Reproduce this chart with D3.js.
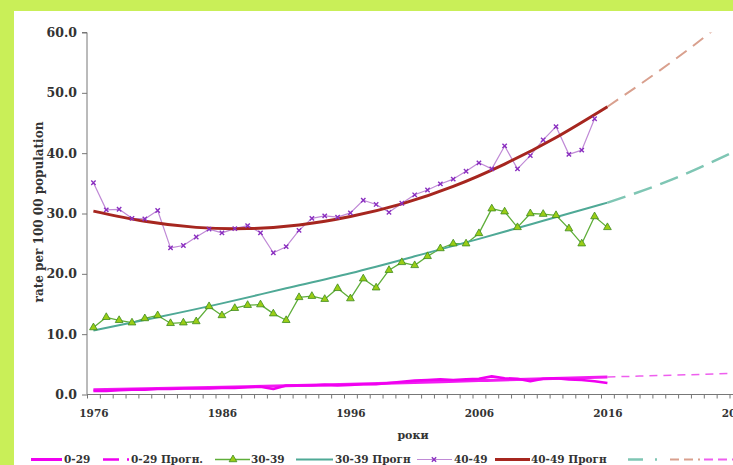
<!DOCTYPE html>
<html>
<head>
<meta charset="utf-8">
<script src="https://cdn.jsdelivr.net/npm/d3@7"></script>
<style>
  html, body { margin: 0; padding: 0; overflow: hidden; background: #c9ef58; }
  svg { display: block; }
  text { font-family: "DejaVu Serif", "Liberation Serif", serif; font-weight: bold; fill: #333; }
</style>
</head>
<body>
<svg id="chart" width="733" height="465"></svg>
<script>
// Observation years
const years = [1976,1977,1978,1979,1980,1981,1982,1983,1984,1985,1986,1987,1988,1989,1990,
  1991,1992,1993,1994,1995,1996,1997,1998,1999,2000,2001,2002,2003,2004,2005,2006,2007,2008,
  2009,2010,2011,2012,2013,2014,2015,2016];

// Rates per 100 000 population by age group
const rate0_29 = [0.6,0.6,0.7,0.8,0.8,0.9,0.9,1.0,1.0,1.0,1.1,1.1,1.2,1.3,0.9,
  1.5,1.5,1.5,1.6,1.5,1.6,1.7,1.7,1.9,2.1,2.3,2.4,2.5,2.4,2.5,2.6,3.0,2.7,
  2.6,2.2,2.6,2.7,2.5,2.4,2.2,1.9];
const rate30_39 = [11.1,12.8,12.3,11.9,12.6,13.1,11.8,11.9,12.1,14.6,13.1,14.3,14.8,14.9,13.4,
  12.3,16.1,16.3,15.8,17.6,15.9,19.2,17.7,20.6,21.9,21.4,22.9,24.2,25.0,25.0,26.7,30.8,30.3,
  27.7,30.0,29.9,29.7,27.5,25.0,29.5,27.7];
const rate40_49 = [35.1,30.6,30.7,29.2,29.1,30.5,24.3,24.7,26.1,27.4,26.8,27.5,28.0,26.8,23.5,
  24.5,27.2,29.2,29.6,29.4,30.1,32.2,31.5,30.2,31.7,33.1,33.9,34.9,35.7,37.0,38.4,37.4,41.2,
  37.4,39.6,42.2,44.4,39.8,40.5,45.7];

// Fitted trend (solid) and forecast (dashed) curves
const trend0_29Years = [1976,1986,1996,2006,2016];
const trend0_29 = [0.8,1.2,1.7,2.3,2.9];
const fc0_29Years = [2016,2021,2026];
const fc0_29 = [2.9,3.2,3.5];

const trend30_39Years = [1976,1981,1986,1991,1996,2001,2006,2011,2016];
const trend30_39 = [10.6,12.8,15.1,17.6,20.1,22.9,25.8,28.8,31.8];
const fc30_39Years = [2016,2021,2026];
const fc30_39 = [31.8,35.6,40.4];

const trend40_49Years = [1976,1980,1984,1988,1992,1996,2000,2004,2008,2012,2016];
const trend40_49 = [30.4,28.7,27.7,27.5,28.1,29.5,31.6,34.5,38.2,42.6,47.7];
const fc40_49Years = [2016,2020,2024,2028];
const fc40_49 = [47.7,53.6,60.0,67.0];

// Axis ticks and labels
const yTicks = [0,10,20,30,40,50,60];
const xLabelYears = [1976,1986,1996,2006,2016,2026];

const svg = d3.select("#chart");
const W = 733, H = 465;

// slide background + white chart panel
svg.append("rect").attr("width", W).attr("height", H).attr("fill", "#c9ef58");
svg.append("rect").attr("x", 14).attr("y", 11).attr("width", W - 14).attr("height", H - 11).attr("fill", "#ffffff");

const plotLeft = 87, plotTop = 32.5, plotBottom = 394.5;
const step = 12.85;
const x = d3.scaleLinear().domain([1975.5, 2031.5]).range([plotLeft, plotLeft + 56 * step]);
const y = d3.scaleLinear().domain([0, 60]).range([plotBottom, plotTop]);

// clip region for the plotted curves
svg.append("defs").append("clipPath").attr("id", "plotClip")
  .append("rect").attr("x", plotLeft).attr("y", plotTop).attr("width", W - plotLeft).attr("height", plotBottom - plotTop + 2);

// Y axis
const yAxis = svg.append("g").attr("transform", `translate(${plotLeft},0)`)
  .call(d3.axisLeft(y).tickValues(yTicks).tickFormat(d3.format(".1f")).tickSize(5).tickPadding(5));
yAxis.select(".domain").attr("stroke", "#777").attr("d", `M-5,${plotTop}H0V${plotBottom}`);
yAxis.selectAll(".tick line").attr("stroke", "#777");
yAxis.selectAll("text").attr("font-size", 12.5).attr("fill", "#333")
  .style("font-family", "DejaVu Serif").style("font-weight", "bold");

// X axis: one tick per year boundary, labels every ten years
const boundaries = d3.range(1975.5, 2032, 1);
const xAxis = svg.append("g").attr("transform", `translate(0,${plotBottom})`)
  .call(d3.axisBottom(x).tickValues(boundaries).tickFormat("").tickSize(4));
xAxis.select(".domain").attr("stroke", "#777").attr("d", `M${plotLeft},0H${W + 20}`);
xAxis.selectAll(".tick line").attr("stroke", "#777");

const xLab = svg.append("g").attr("transform", `translate(0,${plotBottom})`)
  .call(d3.axisBottom(x).tickValues(xLabelYears).tickFormat(d3.format("d")).tickSize(0).tickPadding(15));
xLab.select(".domain").remove();
xLab.selectAll("text").attr("font-size", 10.5).attr("fill", "#333")
  .style("font-family", "DejaVu Serif").style("font-weight", "bold");

// Axis titles
svg.append("text")
  .attr("transform", "translate(43,212) rotate(-90)")
  .attr("text-anchor", "middle").attr("font-size", 12)
  .text("rate per 100 00 population");
svg.append("text").attr("x", 413).attr("y", 439)
  .attr("text-anchor", "middle").attr("font-size", 11)
  .text("роки");

const plot = svg.append("g").attr("clip-path", "url(#plotClip)");

const line = (xs, ys, curve) => d3.line()
  .x((d, i) => x(xs[i])).y(d => y(d)).curve(curve || d3.curveLinear)(ys);

function path(xs, ys, opts) {
  return plot.append("path")
    .attr("d", line(xs, ys, opts.curve))
    .attr("fill", "none")
    .attr("stroke", opts.color)
    .attr("stroke-width", opts.width)
    .attr("stroke-dasharray", opts.dash || null)
    .attr("stroke-linejoin", "round")
    .attr("stroke-linecap", opts.cap || "butt");
}

const yrs40 = years.slice(0, rate40_49.length);

// forecasts (dashed)
path(fc40_49Years, fc40_49, { color: "#d9a08e", width: 2, dash: "13,8", curve: d3.curveNatural });
path(fc30_39Years, fc30_39, { color: "#7fc6b4", width: 2.5, dash: "19,9", curve: d3.curveNatural });
path(fc0_29Years, fc0_29, { color: "#ee5fee", width: 1.5, dash: "8,6", curve: d3.curveNatural });

// 0-29
path(trend0_29Years, trend0_29, { color: "#f21cf2", width: 3, curve: d3.curveNatural });
path(years, rate0_29, { color: "#f000f0", width: 2.6 });

// 30-39
path(years, rate30_39, { color: "#5fae3a", width: 1.3 });
path(trend30_39Years, trend30_39, { color: "#4fa996", width: 2, curve: d3.curveNatural });
plot.append("g").selectAll("path").data(rate30_39).join("path")
  .attr("transform", (d, i) => `translate(${x(years[i])},${y(d)})`)
  .attr("d", d3.symbol(d3.symbolTriangle, 26))
  .attr("fill", "#9acd16").attr("stroke", "#3d8a1e").attr("stroke-width", 0.8);

// 40-49
path(yrs40, rate40_49, { color: "#c08ad6", width: 1.2 });
path(trend40_49Years, trend40_49, { color: "#a6261f", width: 3, curve: d3.curveNatural });
plot.append("g").selectAll("path").data(rate40_49).join("path")
  .attr("transform", (d, i) => `translate(${x(yrs40[i])},${y(d)})`)
  .attr("d", d3.symbol(d3.symbolX, 14))
  .attr("fill", "none").attr("stroke", "#8a2fc0").attr("stroke-width", 1.4);

// Legend
const legY = 459.5;
const lg = svg.append("g");
function legLine(x0, x1, color, width, dash) {
  lg.append("line").attr("x1", x0).attr("x2", x1).attr("y1", legY).attr("y2", legY)
    .attr("stroke", color).attr("stroke-width", width).attr("stroke-dasharray", dash || null);
}
function legText(x0, label) {
  lg.append("text").attr("x", x0).attr("y", legY + 3.5).attr("font-size", 10.5).text(label);
}
legLine(31, 62, "#f000f0", 3);          legText(64, "0-29");
legLine(103, 130, "#f000f0", 2.5, "16,8,2,20"); legText(131, "0-29 Прогн.");
legLine(215, 250, "#5fae3a", 1.3);      legText(251, "30-39");
lg.append("path").attr("transform", `translate(233,${legY})`)
  .attr("d", d3.symbol(d3.symbolTriangle, 26)).attr("fill", "#9acd16").attr("stroke", "#3d8a1e").attr("stroke-width", 0.8);
legLine(296, 333, "#4fa996", 2);        legText(335, "30-39 Прогн");
legLine(417, 452, "#c08ad6", 1.2);      legText(454, "40-49");
lg.append("path").attr("transform", `translate(434,${legY})`)
  .attr("d", d3.symbol(d3.symbolX, 14)).attr("fill", "none").attr("stroke", "#8a2fc0").attr("stroke-width", 1.4);
legLine(495, 530, "#a6261f", 3);        legText(531, "40-49 Прогн");
legLine(628, 660, "#7fc6b4", 2.5, "15,12,2,20");
legLine(670, 700, "#d9a08e", 2, "9,5");
legLine(704, 740, "#ee5fee", 1.8, "9,5");
</script>
</body>
</html>
